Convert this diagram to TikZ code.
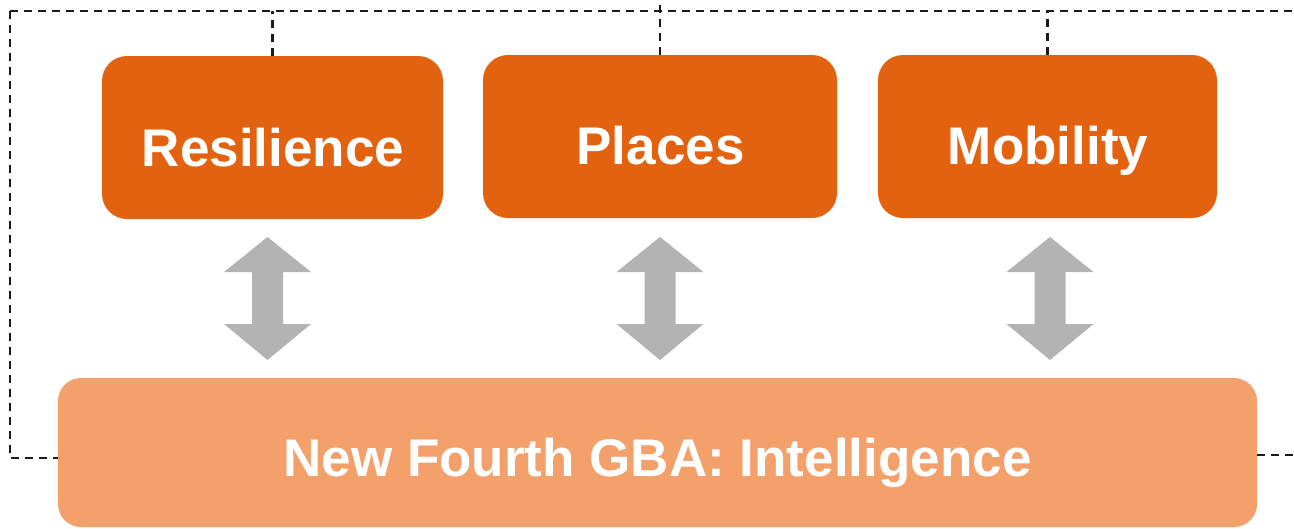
\documentclass[tikz,border=0pt]{standalone}
\usepackage{fontspec}
\setmainfont{Liberation Sans}
\definecolor{topor}{HTML}{E36210}
\definecolor{botor}{HTML}{F4A06A}
\definecolor{arrgrey}{HTML}{B3B3B3}
\definecolor{dashc}{HTML}{1A1A1A}
\tikzset{
  topbox/.style={fill=topor, rounded corners=25pt, inner sep=0pt, minimum height=163pt},
  botbox/.style={fill=botor, rounded corners=23pt, inner sep=0pt},
  lbl/.style={text=white, font=\fontsize{53}{60}\selectfont\bfseries, anchor=base, inner sep=0pt},
  dashline/.style={draw=dashc, line width=2.4pt, dash pattern=on 8pt off 6pt},
  dblarrow/.style={fill=arrgrey},
}
\begin{document}
\begin{tikzpicture}[x=1pt,y=-1pt]
\useasboundingbox (0,0) rectangle (1294,528);
% boxes
\node[topbox, minimum width=341pt] (res) at (272.5,137.5) {};
\node[topbox, minimum width=354pt] (pla) at (660,136.5) {};
\node[topbox, minimum width=339pt] (mob) at (1047.5,136.5) {};
\node[botbox, minimum width=1199pt, minimum height=149pt] (gba) at (657.5,452.5) {};
% labels
\node[lbl] (tres) at (273,166) {Resilience};
\node[lbl] (tpla) at (660.5,164) {Places};
\node[lbl] (tmob) at (1048,164) {Mobility};
\node[lbl] (tgba) at (657.5,476) {New Fourth GBA: Intelligence};
% dashed frame
\coordinate (tl) at (10,11);
\coordinate (tr) at (1294,11);
\coordinate (bl) at (10,458);
\coordinate (br) at (1294,455);
\coordinate (ptop) at (660,0);
\draw[dashline] (tl) -- (tr);
\draw[dashline] (tl) -- (bl) -- (gba.west |- bl);
\draw[dashline] (gba.east |- br) -- (br);
\draw[dashline] (res.north) -- (res.north |- tl);
\draw[dashline] (pla.north) -- (ptop);
\draw[dashline] (mob.north) -- (mob.north |- tl);
% double arrows
\foreach \x in {267.5,660,1050}{
  \fill[dblarrow] (\x,237) -- (\x+43.5,272) -- (\x+15.5,272) -- (\x+15.5,324) -- (\x+43.5,324)
     -- (\x,360) -- (\x-43.5,324) -- (\x-15.5,324) -- (\x-15.5,272) -- (\x-43.5,272) -- cycle;
}
\end{tikzpicture}
\end{document}
